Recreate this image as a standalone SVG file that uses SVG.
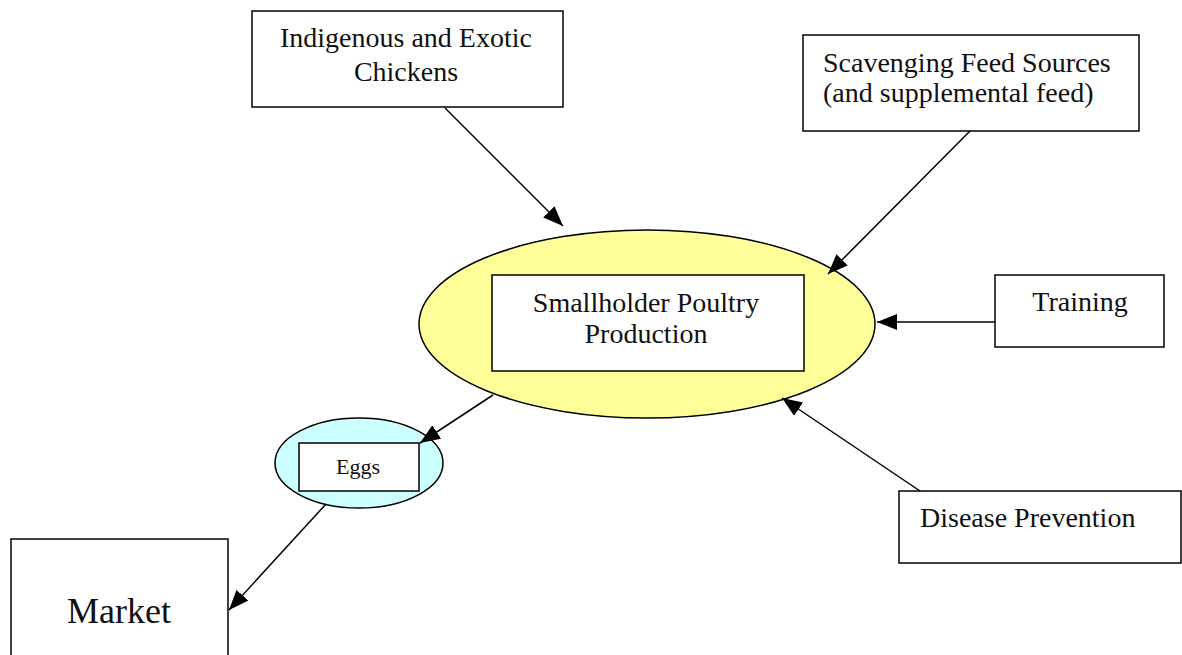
<svg xmlns="http://www.w3.org/2000/svg" width="1182" height="655" viewBox="0 0 1182 655">
<style>
.box{fill:#fff;stroke:#000;stroke-width:1.5}
.t{font-family:"Liberation Serif","DejaVu Serif",serif;font-size:28px;fill:#111}
.c{text-anchor:middle}
.ln{stroke:#000;stroke-width:1.5;fill:none;marker-end:url(#ah)}
</style>
<defs>
<marker id="ah" markerUnits="userSpaceOnUse" markerWidth="22" markerHeight="18" refX="20" refY="8" orient="auto">
<path d="M0,0 L20,8 L0,16 Z" fill="#000"/>
</marker>
</defs>
<rect width="1182" height="655" fill="#fff"/>
<g id="indigenous">
<rect class="box" x="252" y="11" width="311" height="96"/>
<text class="t c" x="406" y="47">Indigenous and Exotic</text>
<text class="t c" x="406" y="81">Chickens</text>
</g>
<g id="scavenging">
<rect class="box" x="803" y="35" width="336" height="96"/>
<text class="t" x="823" y="72">Scavenging Feed Sources</text>
<text class="t" x="823" y="102">(and supplemental feed)</text>
</g>
<g id="production">
<ellipse cx="647" cy="324" rx="228" ry="94" fill="#FFFF99" stroke="#000" stroke-width="1.5"/>
<rect class="box" x="492" y="275" width="312" height="96"/>
<text class="t c" x="646" y="312">Smallholder Poultry</text>
<text class="t c" x="646" y="343">Production</text>
</g>
<g id="training">
<rect class="box" x="995" y="275" width="169" height="72"/>
<text class="t c" x="1080" y="311">Training</text>
</g>
<g id="disease">
<rect class="box" x="899" y="491" width="282" height="72"/>
<text class="t" x="920" y="527">Disease Prevention</text>
</g>
<g id="eggs">
<ellipse cx="359" cy="463" rx="84" ry="45" fill="#CCFFFF" stroke="#000" stroke-width="1.5"/>
<rect class="box" x="299" y="443" width="120" height="48"/>
<text class="t c" x="358" y="474" style="font-size:22px">Eggs</text>
</g>
<g id="market">
<rect class="box" x="11" y="539" width="217" height="130"/>
<text class="t c" x="119" y="623" style="font-size:36px">Market</text>
</g>
<g id="connectors">
<line class="ln" x1="445" y1="108" x2="563" y2="226"/>
<line class="ln" x1="970" y1="131" x2="828" y2="274"/>
<line class="ln" x1="995" y1="322" x2="877" y2="322"/>
<line class="ln" x1="920" y1="491" x2="782" y2="398"/>
<line class="ln" x1="493" y1="395" x2="420" y2="443"/>
<line class="ln" x1="326" y1="504" x2="229" y2="610"/>
</g>
</svg>
